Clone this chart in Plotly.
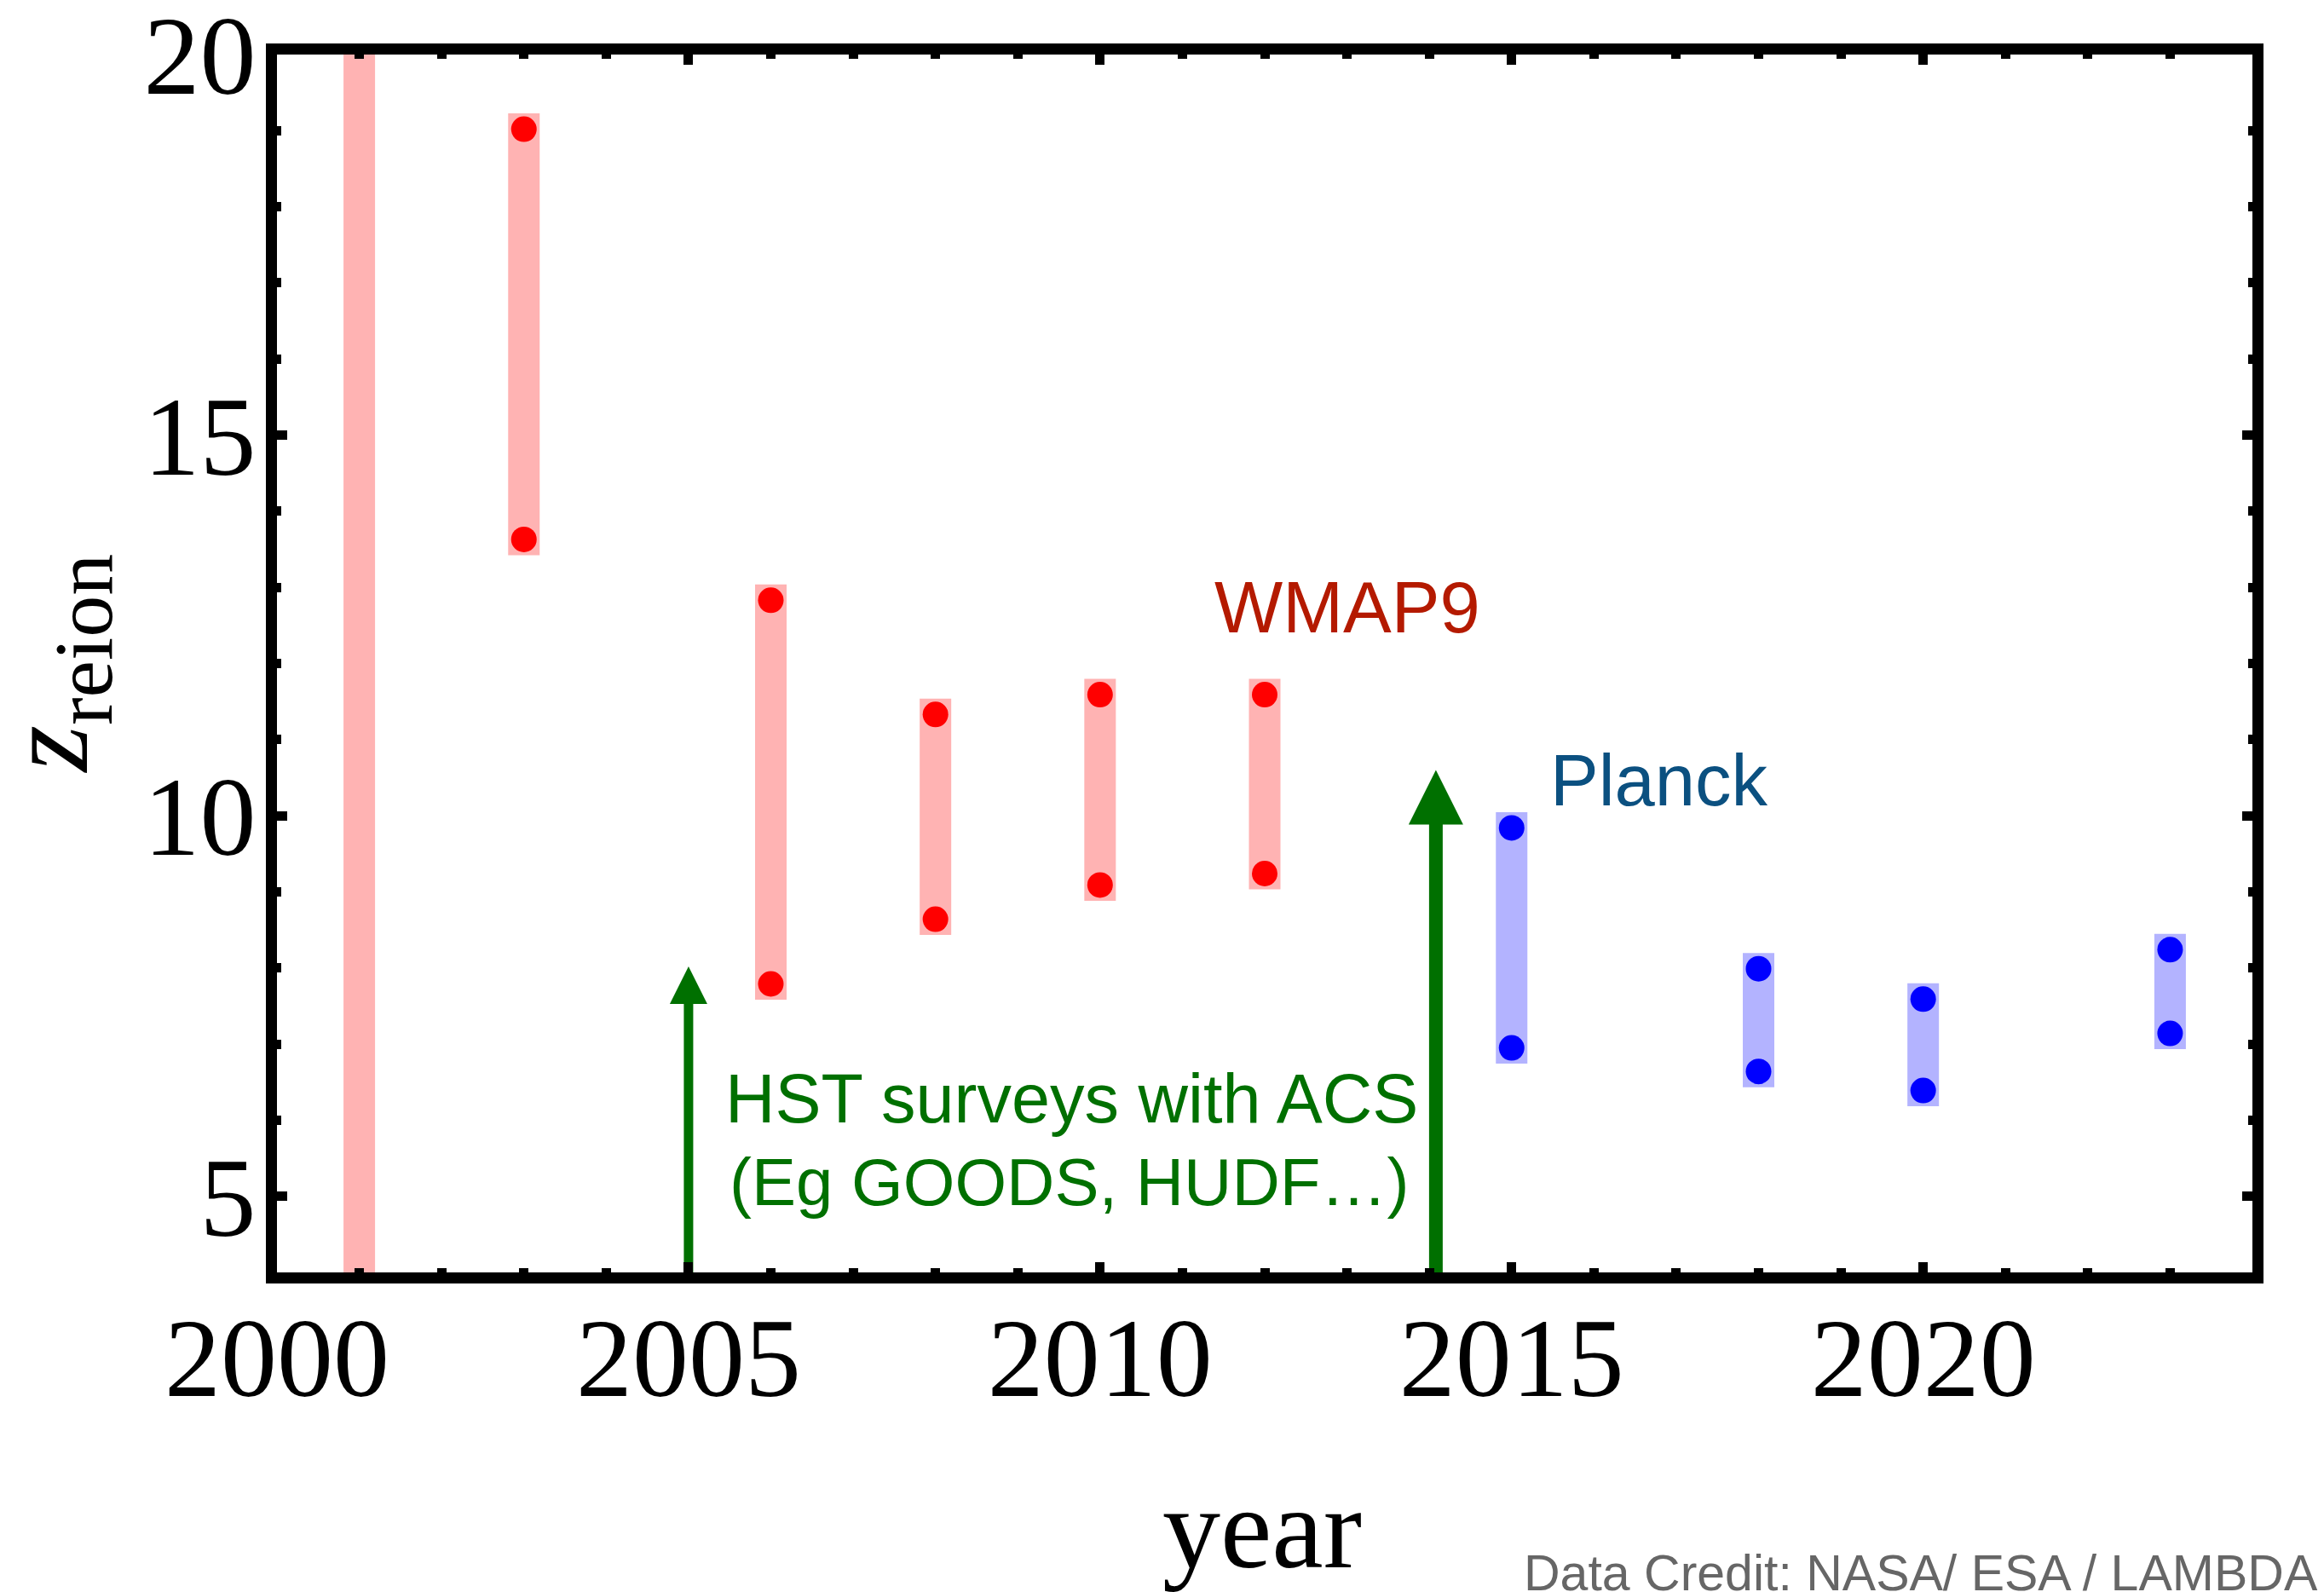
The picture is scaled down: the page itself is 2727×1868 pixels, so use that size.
import plotly.graph_objects as go

# ---------------- data ----------------
wmap_years = [2001, 2003, 2006, 2008, 2010, 2012]
wmap_lo = [2.0, 13.63, 7.79, 8.64, 9.09, 9.24]
wmap_hi = [25.0, 19.02, 12.83, 11.33, 11.59, 11.59]

planck_years = [2015, 2018, 2020, 2023]
planck_lo = [6.95, 6.64, 6.39, 7.14]
planck_hi = [9.84, 7.99, 7.59, 8.24]

arrow_years = [2005, 2014.08]
arrow_from = [4.0, 4.0]
arrow_to = [8.02, 10.6]

x_ticks = [2000, 2005, 2010, 2015, 2020]
y_ticks = [5, 10, 15, 20]
x_range = [2000, 2024]
y_range = [4, 20]

# ---------------- geometry / style ----------------
W, H = 2727, 1868
ML, MR, MT, MB = 325, 84, 64, 375
plot_w = W - ML - MR
plot_h = H - MT - MB
px_per_year = plot_w / (x_range[1] - x_range[0])
px_per_unit = plot_h / (y_range[1] - y_range[0])

BAR_PX = 37
bar_w = BAR_PX / px_per_year
cap = (BAR_PX / 2) / px_per_unit

WMAP_BAR = '#ffb3b3'
PLANCK_BAR = '#b3b3ff'
GREEN = '#007000'

fig = go.Figure()

fig.add_trace(go.Bar(
    x=wmap_years, base=[lo - cap for lo in wmap_lo],
    y=[hi - lo + 2 * cap for lo, hi in zip(wmap_lo, wmap_hi)],
    width=bar_w, marker=dict(color=WMAP_BAR, line=dict(width=0)), hoverinfo='skip'))
fig.add_trace(go.Bar(
    x=planck_years, base=[lo - cap for lo in planck_lo],
    y=[hi - lo + 2 * cap for lo, hi in zip(planck_lo, planck_hi)],
    width=bar_w, marker=dict(color=PLANCK_BAR, line=dict(width=0)), hoverinfo='skip'))

fig.add_trace(go.Scatter(
    x=wmap_years + wmap_years, y=wmap_lo + wmap_hi, mode='markers',
    marker=dict(size=30, color='#ff0000', line=dict(width=0))))
fig.add_trace(go.Scatter(
    x=planck_years + planck_years, y=planck_lo + planck_hi, mode='markers',
    marker=dict(size=30, color='#0000ff', line=dict(width=0))))

# arrows: shaft + head
shaft_w = [11, 16]
head_sz = [44, 64]
for xa, y0, y1, sw, hs in zip(arrow_years, arrow_from, arrow_to, shaft_w, head_sz):
    fig.add_trace(go.Scatter(
        x=[xa, xa], y=[y0, y1 - (hs / 2) / px_per_unit], mode='lines',
        line=dict(color=GREEN, width=sw)))
    fig.add_trace(go.Scatter(
        x=[xa], y=[y1], mode='markers',
        marker=dict(symbol='arrow-up', size=hs, color=GREEN, line=dict(width=0))))

SANS = 'Liberation Sans'
SERIF = 'Liberation Serif'

annotations = [
    dict(x=2013.0, y=12.74, text='WMAP9', font=dict(family=SANS, size=85, color='#b41a00')),
    dict(x=2016.79, y=10.47, text='Planck', font=dict(family=SANS, size=85, color='#0b5080')),
    dict(x=2009.65, y=6.28, text='HST surveys with ACS', font=dict(family=SANS, size=81, color=GREEN)),
    dict(x=2009.62, y=5.19, text='(Eg GOODS, HUDF…)', font=dict(family=SANS, size=78, color=GREEN)),
]
for a in annotations:
    a.update(xref='x', yref='y', showarrow=False, xanchor='center', yanchor='middle')

annotations += [
    dict(xref='paper', yref='paper', x=0.4987, y=-0.21, text='year', showarrow=False,
         xanchor='center', yanchor='middle', font=dict(family=SERIF, size=136, color='black')),
    dict(xref='paper', yref='paper', x=(64 - ML) / plot_w, y=0.5, textangle=-90,
         text='<i>z</i><sub>reion</sub>', showarrow=False,
         xanchor='center', yanchor='middle', font=dict(family=SERIF, size=140, color='black')),
    dict(xref='paper', yref='paper', x=(2722 - ML) / plot_w, y=(H - MB - 1881) / plot_h,
         text='Data Credit: NASA/ ESA / LAMBDA', showarrow=False,
         xanchor='right', yanchor='bottom', font=dict(family=SANS, size=59, color='#666666')),
]

axis_common = dict(
    ticks='inside', ticklen=12, tickwidth=11, tickcolor='black',
    showline=True, linewidth=13, linecolor='black', mirror='allticks',
    showgrid=False, zeroline=False, ticklabeloverflow='allow', automargin=False,
    tickfont=dict(family=SERIF, size=132, color='black'),
)

fig.update_layout(
    width=W, height=H,
    margin=dict(l=ML, r=MR, t=MT, b=MB, pad=0, autoexpand=False),
    plot_bgcolor='white', paper_bgcolor='white',
    showlegend=False, barmode='overlay',
    xaxis=dict(range=x_range, tickmode='array', tickvals=x_ticks,
               ticktext=[str(v) for v in x_ticks], ticklabelstandoff=-26,
               minor=dict(tickmode='linear', tick0=2000, dtick=1, ticks='inside',
                          ticklen=5, tickwidth=11, tickcolor='black', showgrid=False),
               **axis_common),
    yaxis=dict(range=y_range, tickmode='array', tickvals=y_ticks,
               ticktext=[str(v) for v in y_ticks], ticklabelstandoff=-15,
               minor=dict(tickmode='linear', tick0=0, dtick=1, ticks='inside',
                          ticklen=5, tickwidth=11, tickcolor='black', showgrid=False),
               **axis_common),
    annotations=annotations,
)

fig.write_html('out.html')
